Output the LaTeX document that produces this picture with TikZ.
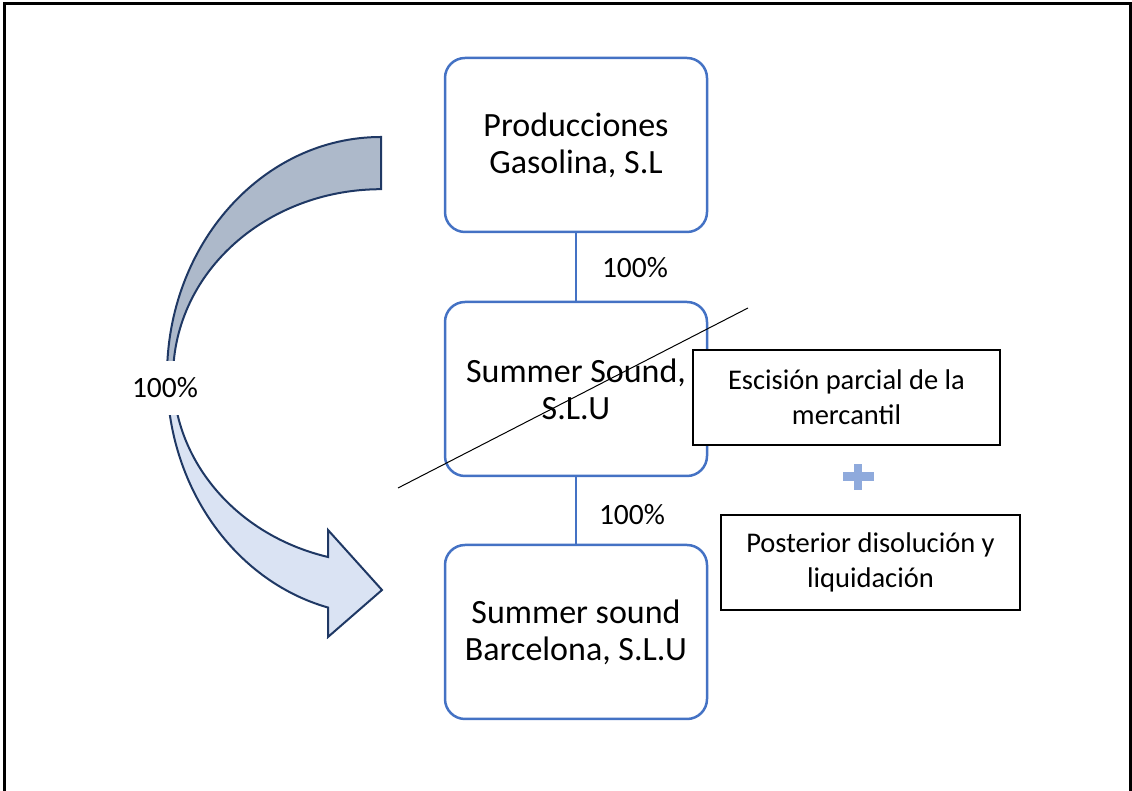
\documentclass[tikz,border=0pt]{standalone}
\usepackage{fontspec}
\setmainfont{Carlito}
\definecolor{boxblue}{HTML}{4472C4}
\definecolor{navy}{HTML}{1F3864}
\definecolor{arrgray}{HTML}{ADB9CA}
\definecolor{arrlight}{HTML}{DAE3F3}
\definecolor{plusblue}{HTML}{8FAADC}
\begin{document}
\begin{tikzpicture}[x=1pt,y=1pt,
  company/.style={draw=boxblue,line width=2.5pt,rounded corners=20pt,minimum width=262pt,minimum height=174pt,align=center,font=\fontsize{34}{37}\selectfont},
  notebox/.style={draw=black,line width=2pt,align=center,font=\fontsize{28.5}{35}\selectfont,inner sep=0pt},
  pct/.style={font=\fontsize{29.5}{30}\selectfont,inner sep=0pt},
  link/.style={draw=boxblue,line width=2.5pt}]
\useasboundingbox (0,0) rectangle (1132,791);
% frame
\draw[line width=3pt] (4,0) -- (4,787) -- (1130,787) -- (1130,0);
% curved arrow
\def\arrowpath{(381,654) arc[start angle=90,end angle=255.7,x radius=214,y radius=239]
   -- (328,154) -- (382,201) -- (328,261) -- (328,234)
   arc[start angle=255.2,end angle=90,x radius=208,y radius=187] -- cycle}
\begin{scope}
  \clip (0,410) rectangle (1132,791);
  \fill[arrgray] \arrowpath;
\end{scope}
\begin{scope}
  \clip (0,0) rectangle (1132,410);
  \fill[arrlight] \arrowpath;
\end{scope}
\draw[navy,line width=2pt,line join=miter] \arrowpath;
\node[pct,fill=white,minimum width=70pt,minimum height=54pt] (lp) at (165,403) {100\%};
% companies
\node[company] (pg) at (576,646) {Producciones\\Gasolina, S.L};
\node[company] (ss) at (576,402) {Summer Sound,\\S.L.U};
\node[company] (sb) at (576,159) {Summer sound\\Barcelona, S.L.U};
\draw[link] (pg.south) -- (ss.north);
\draw[link] (ss.south) -- (sb.north);
\node[pct] (p1) at (635,523) {100\%};
\node[pct] (p2) at (632,276) {100\%};
% strike line
\coordinate (s1) at (398,303);
\coordinate (s2) at (748,483);
\draw[line width=1pt] (s1) -- (s2);
% note boxes
\node[notebox,fill=white,minimum width=307pt,minimum height=95pt] (esc) at (846.5,393.5) {Escisión parcial de la\\mercantil};
\node[notebox,minimum width=299pt,minimum height=95pt] (pos) at (870.5,228.5) {Posterior disolución y\\liquidación};
% plus
\node[fill=plusblue,minimum width=31pt,minimum height=9pt,inner sep=0pt] (plh) at (858,314) {};
\node[fill=plusblue,minimum width=8pt,minimum height=26pt,inner sep=0pt] (plv) at (858,314) {};
\end{tikzpicture}
\end{document}
